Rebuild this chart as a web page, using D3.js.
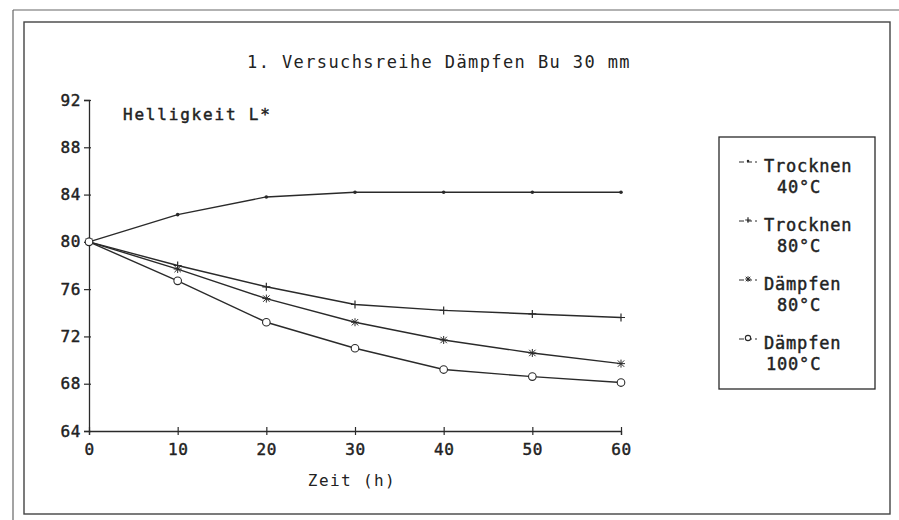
<!DOCTYPE html>
<html>
<head>
<meta charset="utf-8">
<script src="https://cdn.jsdelivr.net/npm/d3@7"></script>
<style>
  html, body { margin: 0; padding: 0; background: #ffffff; }
  svg { display: block; }
  text { font-family: "DejaVu Sans Mono", "Liberation Mono", monospace; fill: #222; }
  .semi { stroke: #222; stroke-width: 0.45px; }
</style>
</head>
<body>
<svg id="chart" width="899" height="520"></svg>
<script>
// ---- data ----
const titleText = "1. Versuchsreihe Dämpfen Bu 30 mm";
const yLabel = "Helligkeit L*";
const xLabel = "Zeit (h)";
const hours = [0, 10, 20, 30, 40, 50, 60];
const xTicks = [0, 10, 20, 30, 40, 50, 60];
const yTicks = [64, 68, 72, 76, 80, 84, 88, 92];
const seriesNames = ["Trocknen", "Trocknen", "Dämpfen", "Dämpfen"];
const seriesTemps = ["40°C", "80°C", "80°C", "100°C"];
const seriesMarkers = ["dot", "plus", "star", "circle"];
const trocknen40 = [80, 82.3, 83.8, 84.2, 84.2, 84.2, 84.2];
const trocknen80 = [80, 78.0, 76.2, 74.7, 74.2, 73.9, 73.6];
const daempfen80 = [80, 77.7, 75.2, 73.2, 71.7, 70.6, 69.7];
const daempfen100 = [80, 76.7, 73.2, 71.0, 69.2, 68.6, 68.1];
const allSeries = [trocknen40, trocknen80, daempfen80, daempfen100];

// ---- drawing ----
const svg = d3.select("#chart");
const ink = "#2a2a2a";

// frames
svg.append("line").attr("x1", 13).attr("x2", 899).attr("y1", 10).attr("y2", 10)
  .attr("stroke", "#666").attr("stroke-width", 1.2);
svg.append("line").attr("x1", 13).attr("x2", 13).attr("y1", 10).attr("y2", 520)
  .attr("stroke", "#666").attr("stroke-width", 1.2);
svg.append("rect").attr("x", 24).attr("y", 22).attr("width", 866).attr("height", 492)
  .attr("fill", "none").attr("stroke", "#444").attr("stroke-width", 1.4);

const x = d3.scaleLinear().domain([0, 60]).range([89, 621]);
const y = d3.scaleLinear().domain([64, 92]).range([431, 100]);

// title
svg.append("text").attr("x", 439).attr("y", 68).attr("text-anchor", "middle")
  .attr("font-size", 17).attr("letter-spacing", 1.4).attr("fill", "#333")
  .text(titleText);

// y axis
const yAxis = d3.axisLeft(y).tickValues(yTicks).tickSize(5).tickPadding(3).tickFormat(d3.format("d"));
const gy = svg.append("g").attr("transform", `translate(${x(0)},0)`).call(yAxis);
gy.select(".domain").attr("stroke", ink).attr("stroke-width", 1.3);
gy.selectAll(".tick line").attr("stroke", ink).attr("stroke-width", 1.2).attr("x2", -5).attr("x1", 2);
gy.selectAll(".tick text").attr("font-size", 16).attr("class", "semi").attr("letter-spacing", 0.6)
  .style("font-family", "'DejaVu Sans Mono', monospace").attr("fill", "#222");

// x axis
const xAxis = d3.axisBottom(x).tickValues(xTicks).tickSize(4).tickPadding(9).tickFormat(d3.format("d"));
const gx = svg.append("g").attr("transform", `translate(0,${y(64)})`).call(xAxis);
gx.select(".domain").attr("stroke", ink).attr("stroke-width", 1.3);
gx.selectAll(".tick line").attr("stroke", ink).attr("stroke-width", 1.2).attr("y1", -4).attr("y2", 4);
gx.selectAll(".tick text").attr("font-size", 16).attr("class", "semi").attr("letter-spacing", 0.6)
  .style("font-family", "'DejaVu Sans Mono', monospace").attr("fill", "#222");

// axis labels
svg.append("text").attr("x", 123).attr("y", 120).attr("font-size", 16).attr("class", "semi")
  .attr("letter-spacing", 1.8).text(yLabel);
svg.append("text").attr("x", 352).attr("y", 486).attr("text-anchor", "middle").attr("font-size", 16)
  .attr("letter-spacing", 1.4).text(xLabel);

// markers
function drawMarker(g, type, cx, cy, scale = 1) {
  const s = 4 * scale;
  if (type === "dot") {
    g.append("circle").attr("cx", cx).attr("cy", cy).attr("r", 1.8 * scale).attr("fill", ink);
  } else if (type === "plus") {
    g.append("path").attr("d", `M${cx - s},${cy}H${cx + s}M${cx},${cy - s}V${cy + s}`)
      .attr("stroke", ink).attr("stroke-width", 1.2).attr("fill", "none");
  } else if (type === "star") {
    const d = s * 0.8;
    g.append("path").attr("d",
      `M${cx - s},${cy}H${cx + s}M${cx},${cy - s}V${cy + s}M${cx - d},${cy - d}L${cx + d},${cy + d}M${cx - d},${cy + d}L${cx + d},${cy - d}`)
      .attr("stroke", ink).attr("stroke-width", 1).attr("fill", "none");
  } else if (type === "circle") {
    g.append("circle").attr("cx", cx).attr("cy", cy).attr("r", 3.8 * scale)
      .attr("fill", "#fff").attr("stroke", ink).attr("stroke-width", 1.1);
  }
}

const line = d3.line().x((d, i) => x(hours[i])).y(d => y(d));
const plot = svg.append("g");
allSeries.forEach((vals) => {
  plot.append("path").datum(vals).attr("d", line).attr("fill", "none")
    .attr("stroke", ink).attr("stroke-width", 1.4);
});
allSeries.forEach((vals, si) => {
  vals.forEach((v, i) => drawMarker(plot, seriesMarkers[si], x(hours[i]), y(v)));
});

// legend
const lg = svg.append("g");
lg.append("rect").attr("x", 719).attr("y", 137).attr("width", 156).attr("height", 252)
  .attr("fill", "none").attr("stroke", ink).attr("stroke-width", 1.3);
const legY = d3.scaleLinear().domain([0, 3]).range([166, 343]);
seriesNames.forEach((name, i) => {
  const cy = legY(i);
  lg.append("line").attr("x1", 739).attr("x2", 757).attr("y1", cy - 4).attr("y2", cy - 4)
    .attr("stroke", ink).attr("stroke-width", 1).attr("stroke-dasharray", "5,3");
  drawMarker(lg, seriesMarkers[i], 748, cy - 5, 0.7);
  lg.append("text").attr("x", 764).attr("y", cy + 6).attr("font-size", 17).attr("class", "semi")
    .attr("letter-spacing", 0.8).text(name);
  lg.append("text").attr("x", i === 3 ? 766 : 777).attr("y", cy + 27).attr("font-size", 17)
    .attr("class", "semi").attr("letter-spacing", 0.8).text(seriesTemps[i]);
});
</script>
</body>
</html>
